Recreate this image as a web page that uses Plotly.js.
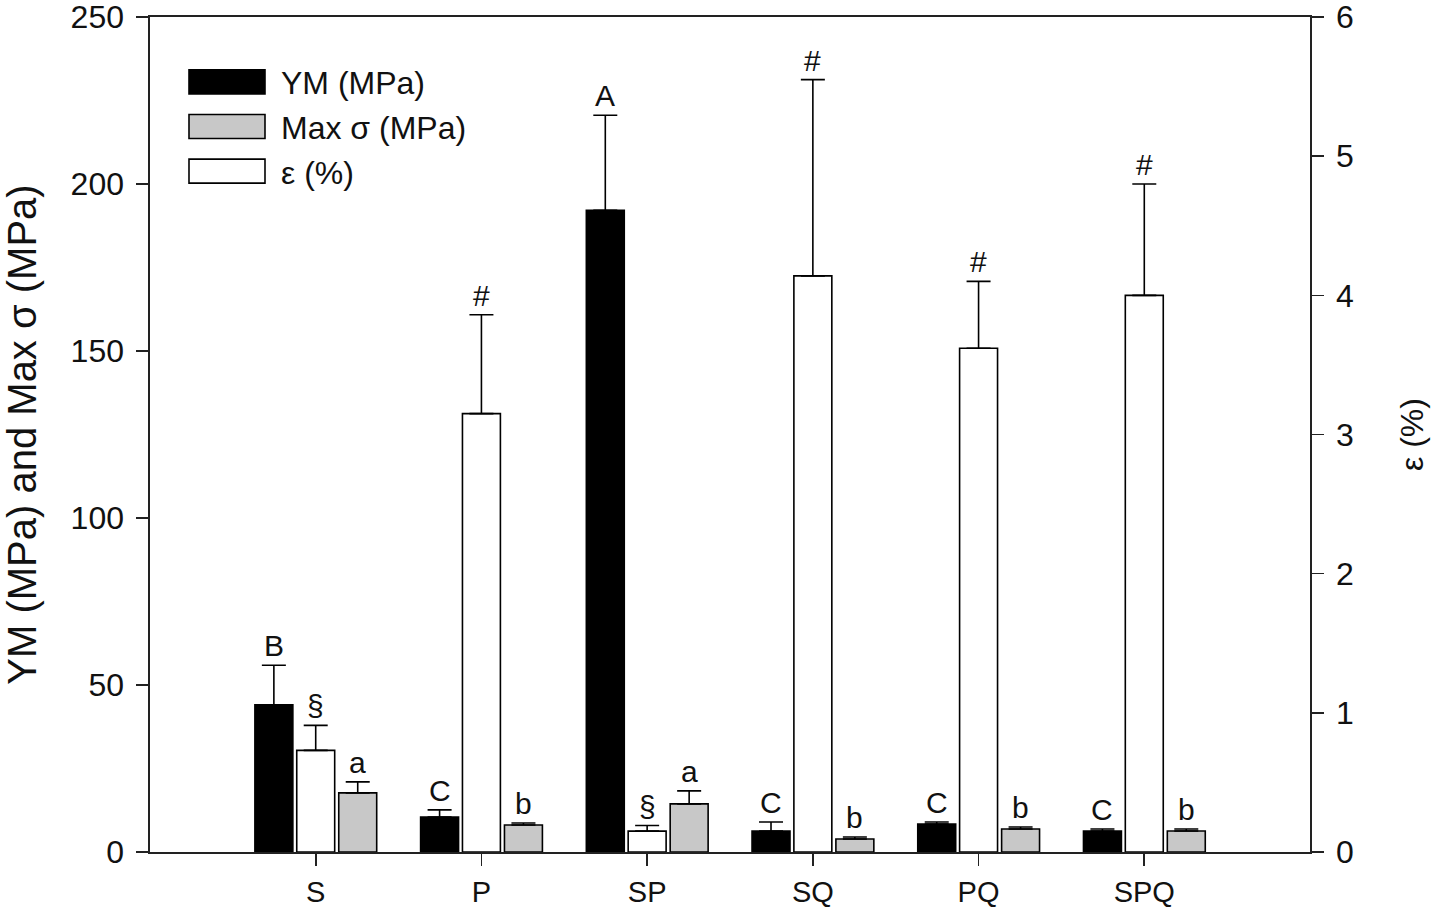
<!DOCTYPE html>
<html><head><meta charset="utf-8">
<script src="https://cdn.plot.ly/plotly-3.0.1.min.js"></script>
<style>html,body{margin:0;padding:0;background:#fff}#chart{width:1435px;height:911px}</style>
</head><body><div id="chart"></div>
<script>
const categories = ['S', 'P', 'SP', 'SQ', 'PQ', 'SPQ'];
const ymValues = [44.1, 10.5, 192.1, 6.3, 8.4, 6.3];
const ymErrors = [11.8, 2.1, 28.5, 2.7, 0.6, 0.6];
const sigmaValues = [17.7, 8.1, 14.4, 3.9, 6.9, 6.3];
const sigmaErrors = [3.3, 0.6, 3.9, 0.6, 0.6, 0.6];
const epsValues = [0.73, 3.15, 0.15, 4.14, 3.62, 4.00];
const epsErrors = [0.18, 0.71, 0.04, 1.41, 0.48, 0.80];
const ymLabels = ['B', 'C', 'A', 'C', 'C', 'C'];
const sigmaLabels = ['a', 'b', 'a', 'b', 'b', 'b'];
const epsLabels = ['§', '#', '§', '#', '#', '#'];
const leftTicks = [0, 50, 100, 150, 200, 250];
const rightTicks = [0, 1, 2, 3, 4, 5, 6];

const FONT = '"Liberation Sans", Arial, Helvetica, sans-serif';
const BW = 0.229;
const OFF = {ym: -0.367, eps: -0.1145, sigma: 0.139};
const zeros = categories.map(() => 0);

function barTrace(name, vals, errs, color, off, axis) {
  return {
    type: 'bar', name: name, x: categories, y: vals,
    yaxis: axis, width: BW, offset: off,
    marker: {color: color, line: {color: '#000', width: 1.6}},
    error_y: {type: 'data', array: errs, arrayminus: zeros, symmetric: false,
              visible: true, color: '#000', thickness: 1.6, width: 12},
    legendgroup: name, hoverinfo: 'x+y'
  };
}

const data = [
  barTrace('YM (MPa)', ymValues, ymErrors, '#000000', OFF.ym, 'y'),
  barTrace('Max σ (MPa)', sigmaValues, sigmaErrors, '#c8c8c8', OFF.sigma, 'y'),
  barTrace('ε (%)', epsValues, epsErrors, '#ffffff', OFF.eps, 'y2')
];

const annotations = [];
function addLabels(labels, vals, errs, off, yref) {
  labels.forEach((t, i) => {
    annotations.push({
      x: i + off + BW / 2, y: vals[i] + errs[i], xref: 'x', yref: yref,
      text: t, showarrow: false, yanchor: 'bottom', xanchor: 'center', yshift: 1,
      font: {family: FONT, size: 30, color: '#111'}
    });
  });
}
addLabels(ymLabels, ymValues, ymErrors, OFF.ym, 'y');
addLabels(sigmaLabels, sigmaValues, sigmaErrors, OFF.sigma, 'y');
addLabels(epsLabels, epsValues, epsErrors, OFF.eps, 'y2');

const axisCommon = {
  showline: true, linecolor: '#222', linewidth: 1.6,
  ticks: 'outside', ticklen: 12, tickwidth: 1.6, tickcolor: '#222',
  showgrid: false, zeroline: false, ticklabeloverflow: 'allow',
  tickfont: {family: FONT, size: 32, color: '#111'}
};

const layout = {
  width: 1435, height: 911,
  margin: {l: 150, r: 125, t: 17, b: 59, pad: 0},
  paper_bgcolor: '#fff', plot_bgcolor: '#fff',
  font: {family: FONT, color: '#111'},
  showlegend: true,
  barmode: 'overlay',
  legend: {x: 0.0181, y: 0.955, xanchor: 'left', yanchor: 'top',
           font: {family: FONT, size: 32, color: '#111'},
           bgcolor: 'rgba(0,0,0,0)', itemwidth: 100, tracegroupgap: 0,
           traceorder: 'grouped'},
  xaxis: Object.assign({}, axisCommon, {
    type: 'category', range: [-1, 6], mirror: true,
    ticklabelstandoff: 2,
    tickfont: {family: FONT, size: 29, color: '#111'}
  }),
  yaxis: Object.assign({}, axisCommon, {
    range: [0, 250], tickvals: leftTicks, ticklabelstandoff: 6,
    title: {text: 'YM (MPa) and Max σ (MPa)', font: {family: FONT, size: 40, color: '#111'}, standoff: 24}
  }),
  yaxis2: Object.assign({}, axisCommon, {
    range: [0, 6], tickvals: rightTicks, overlaying: 'y', side: 'right', ticklabelstandoff: 6,
    title: {text: 'ε (%)', font: {family: FONT, size: 32, color: '#111'}, standoff: 48}
  }),
  annotations: annotations
};

Plotly.newPlot('chart', data, layout, {displayModeBar: false, staticPlot: true}).then(gd => {
  gd.querySelectorAll('.legend .legendpoints path').forEach(p => {
    p.setAttribute('d', 'M39,12H-37V-12H39Z');
  });
});
</script>
</body></html>
